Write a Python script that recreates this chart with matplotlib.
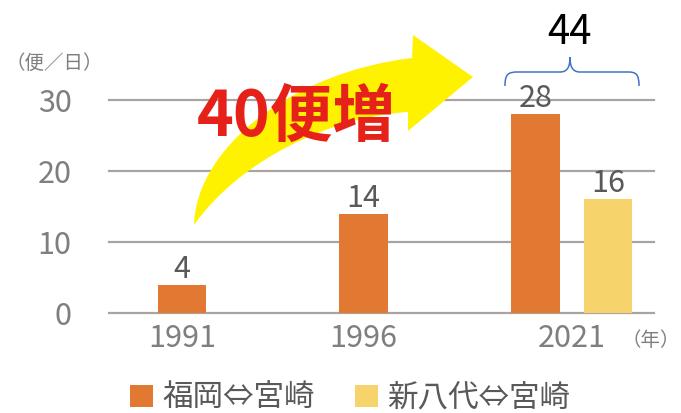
import matplotlib
matplotlib.use("Agg")
import matplotlib.pyplot as plt
from matplotlib.path import Path
from matplotlib.patches import PathPatch
from matplotlib.transforms import Affine2D

plt.rcParams['font.family'] = ['Noto Sans CJK JP', 'DejaVu Sans']

# ---- data ----
years = ['1991', '1996', '2021']
fukuoka = [4, 14, 28]          # 福岡⇔宮崎
shinyatsushiro = [None, None, 16]  # 新八代⇔宮崎
series_names = ['福岡⇔宮崎', '新八代⇔宮崎']
total_2021 = 44
increase_label = '40便増'
y_ticks = [0, 10, 20, 30]

# ---- layout ----
W, H = 681, 413
fig = plt.figure(figsize=(W / 100, H / 100), dpi=100)
ax = fig.add_axes([109 / W, (H - 313) / H, 545 / W, 213 / H])

orange = '#E27933'
yellow = '#F7D46B'
grid_c = '#A9A4A2'

pos_orange = [0.402, 1.402, 2.348]
pos_yellow = [None, None, 2.747]
tick_pos = [0.402, 1.402, 2.547]
bw = 0.268

xs_o = [p for p, v in zip(pos_orange, fukuoka) if v is not None]
vs_o = [v for v in fukuoka if v is not None]
xs_y = [p for p, v in zip(pos_yellow, shinyatsushiro) if v is not None]
vs_y = [v for v in shinyatsushiro if v is not None]

b1 = ax.bar(xs_o, vs_o, width=bw, color=orange, label=series_names[0], zorder=2)
b2 = ax.bar(xs_y, vs_y, width=bw, color=yellow, label=series_names[1], zorder=2)

for x, v in list(zip(xs_o, vs_o)) + list(zip(xs_y, vs_y)):
    ax.annotate(str(v), (x, v), xytext=(0, 5), textcoords='offset points',
                ha='center', va='baseline', fontsize=22, color='#595959', zorder=6)

ax.set_xlim(0, 3)
ax.set_ylim(0, 30)
ax.set_yticks(y_ticks)
ax.set_xticks(tick_pos)
ax.set_xticklabels(years)
ax.tick_params(axis='y', length=0, pad=27, labelsize=22, labelcolor='#7F7F7F')
ax.tick_params(axis='x', length=0, pad=7, labelsize=22, labelcolor='#7F7F7F')
for s in ax.spines.values():
    s.set_visible(False)
for t in y_ticks:
    ax.axhline(t, color=grid_c, lw=1.6, zorder=1, clip_on=False)

# pixel-coordinate transform (origin top-left)
pix = Affine2D().scale(1 / W, -1 / H).translate(0, 1) + fig.transFigure

# ---- yellow curved arrow ----
verts = [
    (194, 225),
    (196, 148), (292, 72), (412, 58),      # top edge
    (413, 35),                              # head top corner
    (473, 77),                              # tip
    (408, 131),                             # head bottom corner
    (408, 112),                             # head base (bottom)
    (330, 117), (240, 160), (194, 225),     # bottom edge back to tail
    (194, 225),
]
codes = [Path.MOVETO,
         Path.CURVE4, Path.CURVE4, Path.CURVE4,
         Path.LINETO, Path.LINETO, Path.LINETO, Path.LINETO,
         Path.CURVE4, Path.CURVE4, Path.CURVE4,
         Path.CLOSEPOLY]
arrow = PathPatch(Path(verts, codes), facecolor='#FFF200', edgecolor='none',
                  transform=pix, zorder=4)
fig.patches.append(arrow)

fig.text(296 / W, 1 - 117 / H, increase_label, ha='center', va='center',
         fontsize=45, fontweight='bold', color='#E6211A', zorder=5)

# ---- brace over 2021 ----
bverts = [
    (505, 86), (505, 74), (508, 72), (518, 72),
    (560, 72),
    (568, 72), (570, 66), (570, 57),
    (570, 66), (572, 72), (580, 72),
    (628, 72),
    (636, 72), (639, 74), (639, 86),
]
bcodes = [Path.MOVETO, Path.CURVE4, Path.CURVE4, Path.CURVE4,
          Path.LINETO,
          Path.CURVE4, Path.CURVE4, Path.CURVE4,
          Path.CURVE4, Path.CURVE4, Path.CURVE4,
          Path.LINETO,
          Path.CURVE4, Path.CURVE4, Path.CURVE4]
brace = PathPatch(Path(bverts, bcodes), facecolor='none', edgecolor='#4472C4',
                  lw=1.1, transform=pix, zorder=5)
fig.patches.append(brace)

fig.text(570 / W, 1 - 33 / H, str(total_2021), ha='center', va='center',
         fontsize=29, color='black')

# ---- unit labels ----
fig.text(54 / W, 1 - 63 / H, '（便／日）', ha='center', va='center',
         fontsize=14, color='#7F7F7F')
fig.text(680 / W, 1 - 341 / H, '（年）', ha='right', va='center',
         fontsize=14, color='#7F7F7F')

# ---- legend ----
fig.legend(handles=[b1, b2], loc='center', bbox_to_anchor=(350 / W, 1 - 398 / H),
           ncol=2, frameon=False, fontsize=22, handlelength=0.75, handleheight=0.75,
           handletextpad=0.3, columnspacing=1.3, labelcolor='#595959',
           borderpad=0, borderaxespad=0)

fig.savefig('out.png', dpi=100)
